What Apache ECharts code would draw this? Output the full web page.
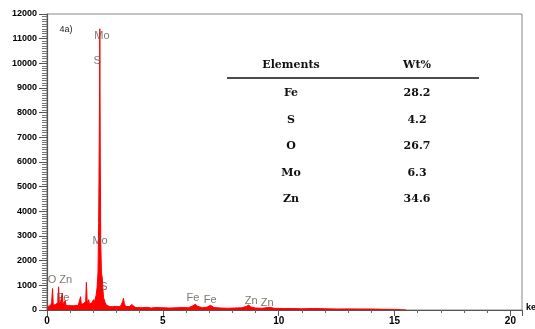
<!DOCTYPE html>
<html><head><meta charset="utf-8">
<script src="https://cdn.jsdelivr.net/npm/echarts@6/dist/echarts.min.js"></script>
<style>html,body{margin:0;padding:0;background:#fff}#c{width:535px;height:329px}</style>
</head><body><div id="c"></div>
<script>
// EDS spectrum: energy (keV) and counts
const energy = [0.00,0.05,0.10,0.15,0.20,0.24,0.27,0.32,0.37,0.42,0.47,0.50,0.53,0.57,0.62,0.66,0.69,0.74,0.79,0.82,0.88,0.95,1.00,1.05,1.10,1.15,1.20,1.25,1.30,1.35,1.40,1.45,1.48,1.53,1.58,1.63,1.67,1.70,1.73,1.77,1.80,1.83,1.88,1.93,1.97,2.01,2.04,2.08,2.12,2.16,2.20,2.23,2.26,2.28,2.30,2.32,2.35,2.38,2.41,2.44,2.48,2.51,2.56,2.62,2.70,2.78,2.85,2.92,3.00,3.08,3.16,3.22,3.27,3.30,3.34,3.40,3.48,3.56,3.62,3.66,3.70,3.80,3.90,4.10,4.30,4.50,4.70,5.00,5.30,5.60,5.90,6.10,6.30,6.40,6.50,6.70,6.90,7.06,7.20,7.50,7.80,8.10,8.40,8.60,8.70,8.80,9.00,9.30,9.60,9.80,10.20,10.60,11.00,11.50,12.00,12.50,13.00,13.50,14.00,14.50,15.00,15.30,15.50];
const counts = [0,150,120,180,300,870,200,150,220,180,300,940,350,250,300,690,250,200,380,180,150,170,140,180,150,170,160,180,200,190,230,540,230,220,260,240,350,1120,400,250,420,250,230,280,250,420,300,330,600,900,1500,3500,7500,11400,6000,2800,1500,1350,900,500,520,300,200,160,140,150,130,140,150,140,130,200,350,480,250,140,120,140,170,220,150,110,100,90,110,80,100,90,80,90,100,90,170,230,150,90,110,190,100,80,70,80,90,140,200,120,80,70,110,70,60,60,50,60,50,40,45,40,40,30,25,10,0];

// peak annotations
const peakNames = ["Mo","S","Mo","S","O Zn","Fe","Fe","Fe","Zn","Zn"];
const peakX = [2.37,2.16,2.29,2.46,0.56,0.69,6.30,7.04,8.81,9.50];
const peakY = [11100,10100,2800,930,1200,490,490,400,360,280];

// table
const elements = ["Fe","S","O","Mo","Zn"];
const wt = ["28.2","4.2","26.7","6.3","34.6"];
const tableHeader = ["Elements","Wt%"];

const xTicks = [0,5,10,15,20];
const xMax = 20.5, xStep = 5, xMinorStep = 1;
const yMax = 12000, yStep = 1000, yMinorStep = 100;

const chart = echarts.init(document.getElementById('c'));

const rowY = [93,120,146,173,199];
const tFont = 'bold 11px "DejaVu Serif"';
const graphics = [
  {type:'line', shape:{x1:227,y1:78,x2:479,y2:78}, style:{stroke:'#111',lineWidth:1.5}},
  {type:'text', x:291, y:65, style:{text:tableHeader[0], font:tFont, fill:'#111', textAlign:'center', textVerticalAlign:'middle'}},
  {type:'text', x:417, y:65, style:{text:tableHeader[1], font:tFont, fill:'#111', textAlign:'center', textVerticalAlign:'middle'}},
  {type:'text', x:66, y:30, style:{text:'4a)', font:'9px "Liberation Sans"', fill:'#222', textAlign:'center', textVerticalAlign:'middle'}}
];
elements.forEach((e,i)=>{
  graphics.push({type:'text', x:291, y:rowY[i], style:{text:e, font:tFont, fill:'#111', textAlign:'center', textVerticalAlign:'middle'}});
  graphics.push({type:'text', x:417, y:rowY[i], style:{text:wt[i], font:tFont, fill:'#111', textAlign:'center', textVerticalAlign:'middle'}});
});

chart.setOption({
  animation:false,
  grid:{left:47, right:13, top:14, bottom:19, show:true, borderColor:'#888', borderWidth:1, outerBoundsMode:'none'},
  xAxis:[{
    type:'value', min:0, max:xMax, interval:xMinorStep,
    axisLine:{lineStyle:{color:'#555', width:1.2}},
    axisTick:{length:3, lineStyle:{color:'#666'}},
    splitLine:{show:false},
    axisLabel:{margin:6, color:'#000', fontWeight:'bold', fontSize:10, fontFamily:'Liberation Sans',
      formatter:v=> xTicks.indexOf(v)>=0 ? String(v) : ''},
    name:'keV', nameLocation:'end', nameGap:4,
    nameTextStyle:{color:'#000', fontWeight:'bold', fontSize:9, fontFamily:'Liberation Sans', verticalAlign:'bottom', padding:[0,0,-2,0]}
  },{
    type:'value', min:0, max:xMax, interval:xStep, position:'bottom',
    axisLine:{show:false}, axisTick:{show:true, length:6, lineStyle:{color:'#555'}},
    axisLabel:{show:false}, splitLine:{show:false}
  }],
  yAxis:[{
    type:'value', min:0, max:yMax, interval:yMinorStep,
    axisLine:{show:true, lineStyle:{color:'#555', width:1.2}},
    axisTick:{show:true, length:5, lineStyle:{color:'#777'}},
    splitLine:{show:false},
    axisLabel:{margin:10, color:'#000', fontWeight:'bold', fontSize:9, fontFamily:'Liberation Sans',
      formatter:v=> (v % yStep === 0) ? String(v) : ''}
  },{
    type:'value', min:0, max:yMax, interval:yStep, position:'left',
    axisLine:{show:false}, axisTick:{show:true, length:8, lineStyle:{color:'#555'}},
    axisLabel:{show:false}, splitLine:{show:false}
  }],
  graphic: graphics,
  series:[
    {type:'line', data:energy.map((e,i)=>[e,counts[i]]), symbol:'none', silent:true,
     lineStyle:{color:'#ff0000', width:1}, areaStyle:{color:'#ff0000', opacity:1}, z:2},
    {type:'scatter', data:peakX.map((x,i)=>[x,peakY[i],peakNames[i]]), symbolSize:0, silent:true, z:3,
     label:{show:true, position:'inside', formatter:p=>p.data[2], color:'#5e544a', fontSize:11, fontFamily:'Liberation Sans'}}
  ]
});
</script></body></html>
